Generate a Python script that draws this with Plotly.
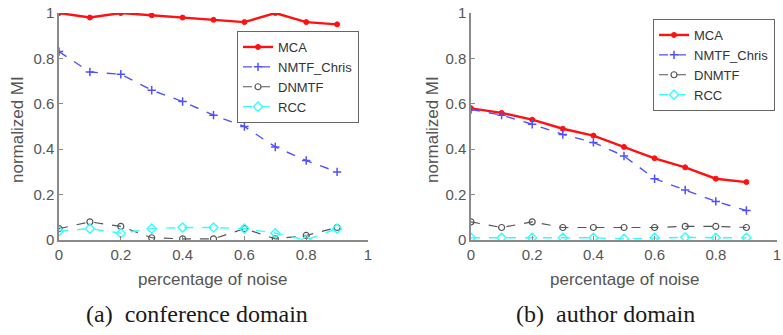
import plotly.graph_objects as go

noise = [0, 0.1, 0.2, 0.3, 0.4, 0.5, 0.6, 0.7, 0.8, 0.9]

conf_mca = [1.0, 0.98, 1.0, 0.99, 0.98, 0.97, 0.96, 1.0, 0.96, 0.95]
conf_nmtf = [0.83, 0.74, 0.73, 0.66, 0.61, 0.55, 0.50, 0.41, 0.35, 0.30]
conf_dnmtf = [0.05, 0.08, 0.06, 0.01, 0.005, 0.005, 0.05, 0.005, 0.02, 0.055]
conf_rcc = [0.04, 0.05, 0.03, 0.05, 0.055, 0.055, 0.05, 0.03, 0.0, 0.05]

auth_mca = [0.58, 0.56, 0.53, 0.49, 0.46, 0.41, 0.36, 0.32, 0.27, 0.255]
auth_nmtf = [0.575, 0.55, 0.51, 0.465, 0.43, 0.37, 0.27, 0.22, 0.17, 0.13]
auth_dnmtf = [0.08, 0.055, 0.08, 0.055, 0.055, 0.055, 0.055, 0.06, 0.06, 0.055]
auth_rcc = [0.01, 0.01, 0.01, 0.01, 0.01, 0.005, 0.01, 0.012, 0.01, 0.01]

series_names = ["MCA", "NMTF_Chris", "DNMTF", "RCC"]
tick_vals = [0, 0.2, 0.4, 0.6, 0.8, 1]
tick_text = ["0", "0.2", "0.4", "0.6", "0.8", "1"]
x_title = "percentage of noise"
y_title = "normalized MI"
captions = ["(a)\u00a0 conference domain", "(b)\u00a0 author domain"]

W, H = 783, 335
styles = [
    dict(color="#ff1111", dash="solid", width=2.4, symbol="circle", size=5, mline=1),
    dict(color="#5050ff", dash="dash", width=1.4, symbol="cross-thin-open", size=6, mline=1.5),
    dict(color="#555555", dash="dash", width=1.2, symbol="circle-open", size=6, mline=1.2),
    dict(color="#33ffff", dash="dash", width=1.4, symbol="diamond-open", size=7, mline=1.4),
]

fig = go.Figure()
panels = [
    ([conf_mca, conf_nmtf, conf_dnmtf, conf_rcc], "x", "y", "legend"),
    ([auth_mca, auth_nmtf, auth_dnmtf, auth_rcc], "x2", "y2", "legend2"),
]
for vals, xa, ya, lg in panels:
    for name, v, s in zip(series_names, vals, styles):
        fig.add_trace(go.Scatter(
            x=noise, y=v, name=name, mode="lines+markers", xaxis=xa, yaxis=ya, legend=lg,
            line=dict(color=s["color"], dash=s["dash"], width=s["width"]),
            marker=dict(symbol=s["symbol"], size=s["size"], color=s["color"],
                        line=dict(color=s["color"], width=s["mline"])),
        ))


def px_x(p):
    return p / W


def px_y(p):
    return 1 - p / H


axis_common = dict(
    range=[0, 1], tickvals=tick_vals, ticktext=tick_text,
    showline=True, linecolor="#8a8a8a", linewidth=1.5,
    ticks="inside", ticklen=4, tickcolor="#8a8a8a",
    showgrid=False, zeroline=False, automargin=False,
    tickfont=dict(family="Liberation Sans, Arial", size=15, color="#555555"),
)
title_font = dict(family="Liberation Sans, Arial", size=17, color="#555555")
cap_font = dict(family="Liberation Serif, Times New Roman", size=24, color="#1a1a1a")
leg_font = dict(family="Liberation Sans, Arial", size=13, color="#333333")

annots = []
for xc, yc_title_x in [(212, 17), (624, 432)]:
    annots.append(dict(text=x_title, x=px_x(xc), y=px_y(279), xref="paper", yref="paper",
                       showarrow=False, font=title_font, xanchor="center", yanchor="middle"))
    annots.append(dict(text=y_title, x=px_x(yc_title_x), y=px_y(130), xref="paper", yref="paper",
                       showarrow=False, font=title_font, textangle=-90,
                       xanchor="center", yanchor="middle"))
for cap, xc in zip(captions, [197, 605]):
    annots.append(dict(text=cap, x=px_x(xc), y=px_y(314), xref="paper", yref="paper",
                       showarrow=False, font=cap_font, xanchor="center", yanchor="middle"))

fig.update_layout(
    width=W, height=H, margin=dict(l=0, r=0, t=0, b=0, autoexpand=False),
    plot_bgcolor="white", paper_bgcolor="white",
    xaxis=dict(axis_common, domain=[px_x(59), px_x(368)], anchor="y"),
    yaxis=dict(axis_common, domain=[px_y(240), px_y(13)], anchor="x"),
    xaxis2=dict(axis_common, domain=[px_x(471), px_x(777)], anchor="y2"),
    yaxis2=dict(axis_common, domain=[px_y(240), px_y(13)], anchor="x2"),
    legend=dict(x=px_x(237), y=px_y(31), xanchor="left", yanchor="top",
                bordercolor="#666666", borderwidth=1, bgcolor="white",
                font=leg_font, tracegroupgap=0, itemwidth=30),
    legend2=dict(x=px_x(775), y=px_y(19), xanchor="right", yanchor="top",
                 bordercolor="#666666", borderwidth=1, bgcolor="white",
                 font=leg_font, tracegroupgap=0, itemwidth=30),
    annotations=annots,
)

fig.write_html(
    "out.html",
    config={"displayModeBar": False},
    post_script="document.body.style.margin='0';document.body.style.overflow='hidden';",
)
